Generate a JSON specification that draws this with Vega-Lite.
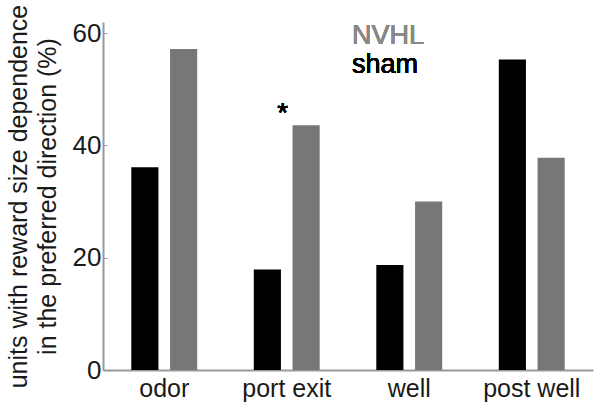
{
  "$schema": "https://vega.github.io/schema/vega-lite/v6.json",
  "width": 490,
  "height": 348,
  "autosize": "none",
  "padding": {"left": 103, "top": 22, "right": 8, "bottom": 46},
  "background": "white",
  "config": {
    "view": {"stroke": null},
    "font": "Liberation Sans",
    "axis": {"grid": false}
  },
  "data": {
    "values": [
      {"epoch": "odor", "group": "sham", "pct": 36.1},
      {"epoch": "odor", "group": "NVHL", "pct": 57.2},
      {"epoch": "port exit", "group": "sham", "pct": 17.9},
      {"epoch": "port exit", "group": "NVHL", "pct": 43.6},
      {"epoch": "well", "group": "sham", "pct": 18.7},
      {"epoch": "well", "group": "NVHL", "pct": 30.0},
      {"epoch": "post well", "group": "sham", "pct": 55.3},
      {"epoch": "post well", "group": "NVHL", "pct": 37.8}
    ]
  },
  "layer": [
    {
      "mark": {"type": "bar"},
      "encoding": {
        "x": {
          "field": "epoch",
          "type": "nominal",
          "sort": ["odor", "port exit", "well", "post well"],
          "scale": {"paddingInner": 0, "paddingOuter": 0},
          "axis": {
            "title": null,
            "ticks": false,
            "labelAngle": 0,
            "labelFontSize": 25,
            "labelColor": "#1a1a1a",
            "labelPadding": 6,
            "domainColor": "#999999",
            "domainWidth": 2
          }
        },
        "xOffset": {
          "field": "group",
          "type": "nominal",
          "sort": ["sham", "NVHL"],
          "scale": {"paddingInner": 0.3, "paddingOuter": 0.73}
        },
        "y": {
          "field": "pct",
          "type": "quantitative",
          "scale": {"domain": [0, 62], "nice": false},
          "axis": {
            "values": [0, 20, 40, 60],
            "title": ["units with reward size dependence", "in the preferred direction (%)"],
            "titleFontSize": 25,
            "titleFontWeight": "normal",
            "titleColor": "#1a1a1a",
            "titleLineHeight": 29,
            "titlePadding": 12,
            "labelFontSize": 26,
            "labelColor": "#1a1a1a",
            "labelPadding": 6,
            "tickSize": -4,
            "tickColor": "#999999",
            "domainColor": "#999999",
            "domainWidth": 2
          }
        },
        "color": {
          "field": "group",
          "type": "nominal",
          "scale": {"domain": ["sham", "NVHL"], "range": ["#000000", "#777777"]},
          "legend": null
        }
      }
    },
    {
      "mark": {"type": "text", "text": "*", "fontSize": 28, "color": "#000000", "align": "center", "baseline": "alphabetic", "dx": -4},
      "encoding": {
        "x": {"datum": "port exit"},
        "y": {"datum": 44.1}
      }
    },
    {
      "mark": {"type": "text", "text": "NVHL", "fontSize": 27, "color": "#888888", "align": "left", "baseline": "alphabetic", "dx": 4},
      "encoding": {
        "x": {"datum": "well", "bandPosition": 0},
        "y": {"datum": 58.0}
      }
    },
    {
      "mark": {"type": "text", "text": "sham", "fontSize": 27, "color": "#000000", "align": "left", "baseline": "alphabetic", "dx": 4},
      "encoding": {
        "x": {"datum": "well", "bandPosition": 0},
        "y": {"datum": 53.0}
      }
    }
  ]
}
